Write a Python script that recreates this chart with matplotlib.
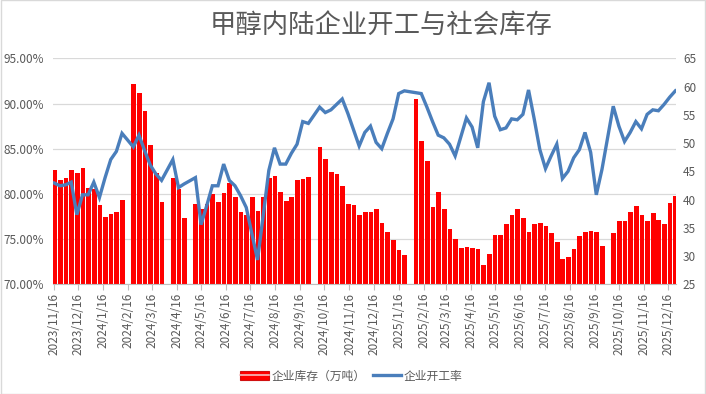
import numpy as np
import pandas as pd
import matplotlib
matplotlib.use('Agg')
import matplotlib.pyplot as plt
from matplotlib.ticker import PercentFormatter, MultipleLocator
from matplotlib.patches import Patch
from matplotlib.lines import Line2D

nan = np.nan

# weekly data (Thursdays), nan = no data that week
dates = pd.date_range('2023-11-16', periods=111, freq='7D')

# 企业库存（万吨）, right axis
inventory = [
    45.3, 43.4, 43.9, 45.3, 44.7, 45.6, 42.1, 41.8, 39.1, 37.0,
    37.5, 37.8, 40.0, nan, 60.5, 58.8, 55.7, 49.6, 44.7, 39.6,
    nan, 43.9, 41.8, 36.8, nan, 39.2, 38.3, 39.2, 41.0, 39.6,
    41.2, 42.9, 40.4, 37.8, 37.2, 40.5, 38.0, 40.4, 43.9, 44.2,
    41.3, 39.7, 40.5, 43.4, 43.7, 44.0, nan, 49.3, 47.2, 44.8,
    44.5, 42.4, 39.2, 39.1, 37.2, 37.8, 37.8, 38.3, 35.9, 34.3,
    32.8, 31.1, 30.1, nan, 57.8, 50.3, 46.9, 38.6, 41.3, 38.4,
    34.8, 33.0, 31.4, 31.6, 31.4, 31.2, 28.5, 30.4, 33.8, 33.8,
    35.7, 37.3, 38.3, 36.8, 34.3, 35.6, 35.9, 35.4, 34.1, 32.5,
    29.5, 29.8, 31.2, 33.6, 34.3, 34.4, 34.3, 31.7, nan, 34.1,
    36.2, 36.2, 37.8, 38.9, 37.2, 36.2, 37.6, 36.4, 35.6, 39.4,
    40.7,
]

# 企业开工率 (%), left axis
run_rate = [
    81.2, 80.9, 81.0, 81.3, 77.7, 79.9, 79.9, 81.3, 79.6, 81.8,
    83.8, 84.7, 86.7, nan, 85.2, 86.5, 84.8, 83.2, 82.2, 81.5,
    nan, 83.8, 80.7, 81.1, nan, 81.8, 76.6, 78.7, 80.9, 80.9,
    83.3, 81.5, 80.9, 79.8, 78.5, 75.6, 72.7, 77.6, 82.6, 85.1,
    83.3, 83.3, 84.5, 85.5, 88.0, 87.8, nan, 89.6, 89.0, 89.3,
    89.9, 90.5, 88.9, 87.1, 85.3, 86.8, 87.5, 85.7, 85.0, 86.7,
    88.3, 91.1, 91.4, nan, 91.2, 91.1, 89.6, 88.0, 86.5, 86.2,
    85.5, 84.2, 86.3, 88.4, 87.4, 85.1, 90.2, 92.3, 88.6, 87.1,
    87.3, 88.3, 88.2, 88.8, 91.5, 88.3, 84.9, 82.8, 84.2, 85.5,
    81.7, 82.5, 84.0, 84.9, 86.8, 84.6, 79.9, 82.7, nan, 89.7,
    87.5, 85.8, 86.8, 88.0, 87.2, 88.8, 89.3, 89.2, 89.9, 90.7,
    91.4,
]

tick_dates = pd.date_range('2023-11-16', '2025-12-16', freq=pd.DateOffset(months=1))
tick_labels = [f'{d.year}/{d.month}/{d.day}' for d in tick_dates]

plt.rcParams['font.family'] = ['Noto Sans CJK SC', 'DejaVu Sans']
grey = '#595959'
red = '#ff0000'
blue = '#4a7ebb'

fig = plt.figure(figsize=(7.06, 3.94), dpi=100)
ax = fig.add_axes([0.0755, 0.2784, 0.882, 0.5736])
axb = ax.twinx()
ax.set_zorder(axb.get_zorder() + 1)
ax.patch.set_visible(False)

inv = np.array(inventory, dtype=float)
rr = np.array(run_rate, dtype=float)

# bars (right axis)
ok = ~np.isnan(inv)
axb.bar(dates[ok] + pd.Timedelta(hours=12), inv[ok] - 25, bottom=25, width=5.8,
        color=red, linewidth=0)
axb.set_ylim(25, 65)
axb.yaxis.set_major_locator(MultipleLocator(5))

# line (left axis), gaps connected
ok = ~np.isnan(rr)
ax.plot(dates[ok], rr[ok], color=blue, lw=2.4, solid_joinstyle='miter')
ax.set_ylim(70, 95)
ax.yaxis.set_major_locator(MultipleLocator(5))
ax.yaxis.set_major_formatter(PercentFormatter(100, decimals=2))

# gridlines at the left ticks, drawn behind the bars
for p in ax.get_yticks()[1:]:
    axb.axhline(25 + (p - 70) / 25 * 40, color='#d9d9d9', lw=0.9, zorder=0)

ax.set_xlim(dates[0] - pd.Timedelta(days=1.2), dates[-1] + pd.Timedelta(days=0.8))
ax.set_xticks(tick_dates)
ax.set_xticklabels(tick_labels, rotation=90)

for a in (ax, axb):
    for s in a.spines.values():
        s.set_visible(False)
ax.spines['bottom'].set_visible(True)
ax.spines['bottom'].set_color('#bfbfbf')

ax.tick_params(axis='x', length=4, color='#bfbfbf', labelsize=8.5,
               labelcolor=grey, pad=2)
ax.tick_params(axis='y', length=0, labelsize=8.5, labelcolor=grey, pad=7)
axb.tick_params(axis='y', length=0, labelsize=8.5, labelcolor=grey, pad=5)

fig.text(0.54, 0.935, '甲醇内陆企业开工与社会库存', ha='center', va='center',
         fontsize=19, color=grey)

# excel-like legend: red block with a light stripe, and a blue line
bar_handle = (Patch(facecolor=red, edgecolor='#d01010', lw=0.8),
              Line2D([], [], color='#f4c0c0', lw=1.2))
line_handle = Line2D([], [], color=blue, lw=2.4)
fig.legend([bar_handle, line_handle], ['企业库存（万吨）', '企业开工率'],
           loc='center', bbox_to_anchor=(0.498, 0.045),
           ncol=2, frameon=False, fontsize=8.5, handlelength=2.4,
           handleheight=0.8, handletextpad=0.25, columnspacing=0.6,
           labelcolor=grey)

fig.patches.append(plt.Rectangle((0.001, 0.001), 0.998, 0.998, transform=fig.transFigure,
                                 fill=False, edgecolor='#d9d9d9', lw=1))

fig.savefig('out.png', dpi=100)
